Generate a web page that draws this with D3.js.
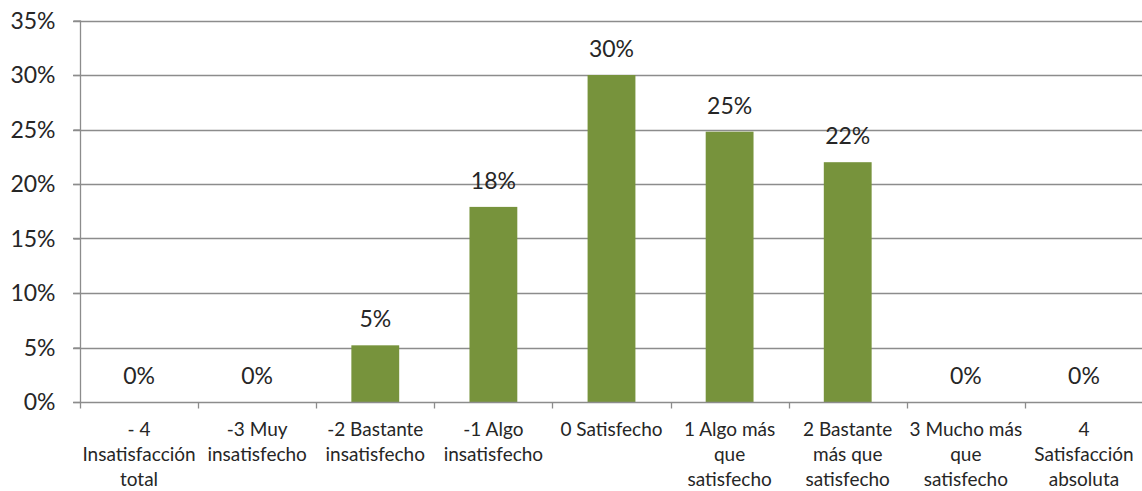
<!DOCTYPE html>
<html><head><meta charset="utf-8">
<script src="https://cdn.jsdelivr.net/npm/d3@7"></script>
<style>body{margin:0;background:#fff}svg{display:block}text{font-family:Lato,"Open Sans",sans-serif;fill:#262626}</style>
</head><body><svg id="c" width="1142" height="491"></svg>
<script>
const categories = ["-4","-3","-2","-1","0","1","2","3","4"];
const categoryLines = [
  ["- 4","Insatisfacción","total"],
  ["-3 Muy","insatisfecho"],
  ["-2 Bastante","insatisfecho"],
  ["-1 Algo","insatisfecho"],
  ["0 Satisfecho"],
  ["1 Algo más","que","satisfecho"],
  ["2 Bastante","más que","satisfecho"],
  ["3 Mucho más","que","satisfecho"],
  ["4","Satisfacción","absoluta"]
];
const values = [0, 0, 0.052, 0.179, 0.300, 0.248, 0.220, 0, 0];
const valueLabels = ["0%","0%","5%","18%","30%","25%","22%","0%","0%"];
const yTicks = [0,0.05,0.10,0.15,0.20,0.25,0.30,0.35];

const svg = d3.select("#c");
const m = {l:80, r:0, t:20.5, b:89};
const W = 1142, H = 491;
const x = d3.scaleBand().domain(categories).range([m.l, 1143]).paddingInner(0.595).paddingOuter(0.2975);
const xb = d3.scaleBand().domain(categories).range([m.l, 1143]);
const y = d3.scaleLinear().domain([0,0.35]).range([H-m.b, m.t]);

// gridlines
svg.append("g").selectAll("line").data(yTicks.slice(1)).join("line")
  .attr("x1", 73).attr("x2", W).attr("y1", d=>Math.round(y(d))+0.5).attr("y2", d=>Math.round(y(d))+0.5)
  .attr("stroke","#8c8c8c").attr("stroke-width",1.3);

// bars
svg.append("g").selectAll("rect").data(values).join("rect")
  .attr("x",(d,i)=>x(categories[i])).attr("width",x.bandwidth())
  .attr("y",d=>y(d)).attr("height",d=>y(0)-y(d)).attr("fill","#77933c");

// y axis
const yAxis = d3.axisLeft(y).tickValues(yTicks).tickFormat(d3.format(".0%")).tickSize(7).tickPadding(18);
const gy = svg.append("g").attr("transform",`translate(${m.l+0.5},0)`).call(yAxis);
gy.select(".domain").attr("stroke","#8c8c8c").attr("stroke-width",1.3).attr("d",`M0,${y(0.35)}V${y(0)}`);
gy.selectAll(".tick line").attr("stroke","#8c8c8c").attr("stroke-width",1.3);
gy.selectAll(".tick text").style("font-size","23px").style("font-family","Lato,sans-serif").attr("fill","#262626").attr("dy","0.34em");

// x axis
const gx = svg.append("g").attr("transform",`translate(0,${Math.round(y(0))+0.5})`);
gx.append("line").attr("x1",73).attr("x2",W).attr("stroke","#8c8c8c").attr("stroke-width",1.3);
gx.selectAll("line.t").data(d3.range(categories.length+1)).join("line").attr("class","t")
  .attr("x1",i=>Math.round(m.l + i*xb.step())+0.5).attr("x2",i=>Math.round(m.l + i*xb.step())+0.5)
  .attr("y1",0).attr("y2",6).attr("stroke","#8c8c8c").attr("stroke-width",1.3);

// category labels
const cl = svg.append("g").selectAll("text").data(categoryLines).join("text")
  .attr("text-anchor","middle").style("font-size","19px")
  .attr("x",(d,i)=>xb(categories[i])+xb.bandwidth()/2).attr("y",436);
cl.each(function(lines,i){
  d3.select(this).selectAll("tspan").data(lines).join("tspan")
    .attr("x",xb(categories[i])+xb.bandwidth()/2).attr("dy",(d,j)=>j===0?0:25).text(d=>d);
});

// value labels
svg.append("g").selectAll("text").data(values).join("text")
  .attr("text-anchor","middle").style("font-size","23px")
  .attr("x",(d,i)=>x(categories[i])+x.bandwidth()/2)
  .attr("y",d=>y(d)-18).text((d,i)=>valueLabels[i]);
</script></body></html>
